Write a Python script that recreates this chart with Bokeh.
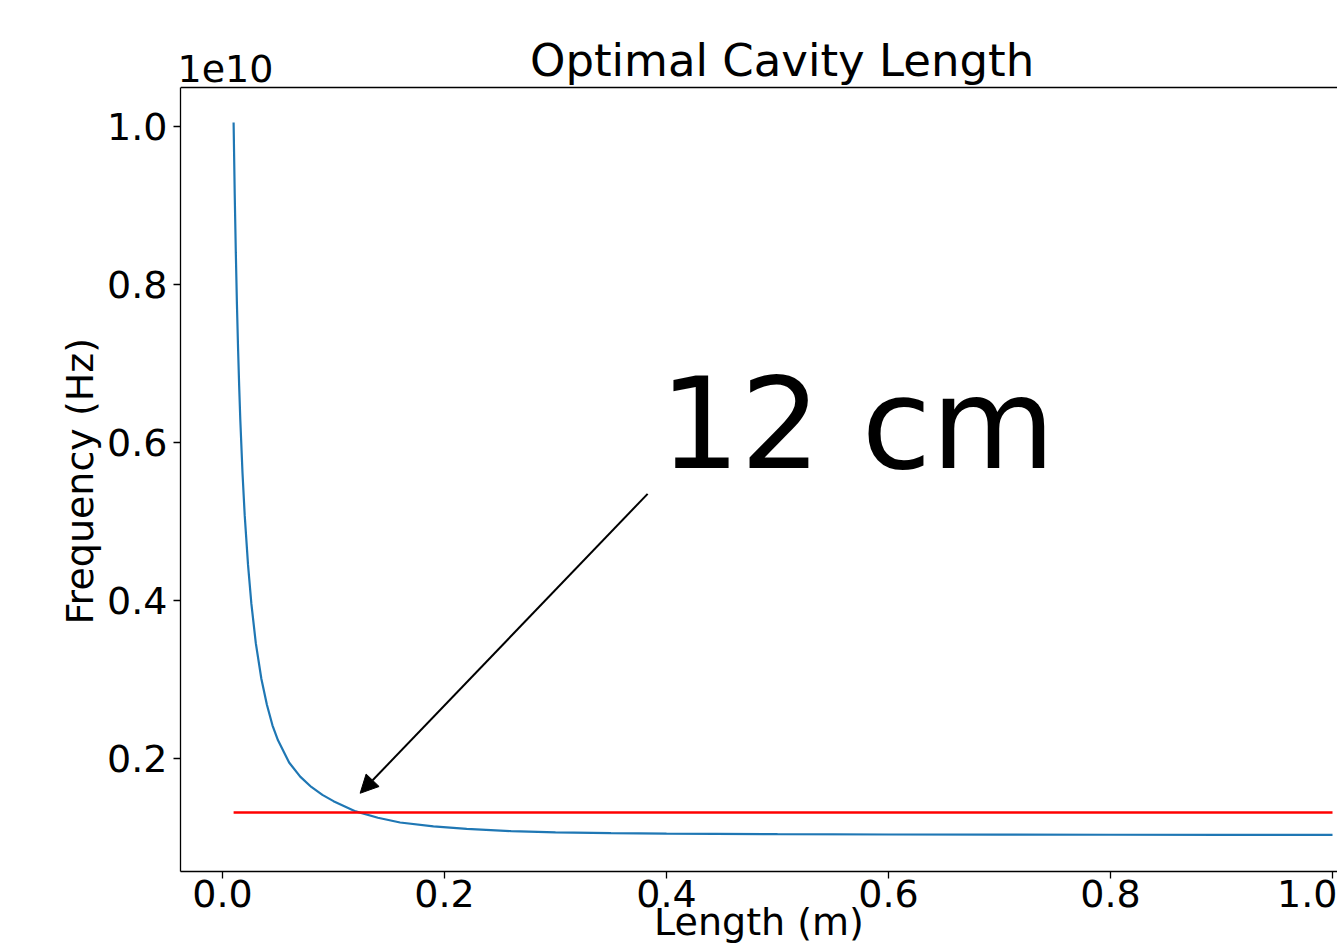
from bokeh.plotting import figure
from bokeh.models import (Range1d, FixedTicker, CustomJSTickFormatter, Label,
                          Arrow, NormalHead, Span, Title)
from bokeh.embed import file_html
from bokeh.resources import INLINE

# ---- data (frequency in units of 1e10 Hz) ----
length_m = [0.010, 0.011, 0.012, 0.013, 0.014, 0.015, 0.016, 0.018, 0.020,
            0.023, 0.026, 0.030, 0.035, 0.040, 0.045, 0.050, 0.060, 0.070,
            0.080, 0.090, 0.100, 0.120, 0.140, 0.160, 0.190, 0.220, 0.260,
            0.300, 0.350, 0.400, 0.500, 0.600, 0.700, 0.800, 0.900, 1.000]
frequency_e10 = [1.005, 0.915, 0.840, 0.775, 0.720, 0.672, 0.630, 0.562, 0.508,
                 0.445, 0.396, 0.346, 0.301, 0.268, 0.242, 0.223, 0.195, 0.177,
                 0.164, 0.154, 0.146, 0.133, 0.125, 0.119, 0.114, 0.111, 0.108,
                 0.1065, 0.1055, 0.1048, 0.1042, 0.1038, 0.1036, 0.1035, 0.1034, 0.1033]
target_length = [0.01, 1.0]
target_freq = [0.1316, 0.1316]

x_ticks = [0.0, 0.2, 0.4, 0.6, 0.8, 1.0]
y_ticks = [0.2, 0.4, 0.6, 0.8, 1.0]

title_text = "Optimal Cavity Length"
x_label = "Length (m)"
y_label = "Frequency (Hz)"
offset_text = "1e10"
note_text = "12 cm"

# annotation anchors (data coordinates)
title_pos = (0.2770, 1.0832)
offset_pos = (-0.0405, 1.0735)
note_pos = (0.3937, 0.6228)
arrow_tail = (0.383, 0.535)
arrow_tip = (0.124, 0.156)

# axes-box limits (matplotlib-like margins) and drawing extent
x_lo, x_hi = -0.03784, 1.0045
y_lo, y_box_top, y_canvas_top = 0.05696, 1.04937, 1.15949

FONT = "DejaVu Sans"
W, H = 1337, 947

p = figure(width=W, height=H, output_backend="svg", toolbar_location=None,
           x_range=Range1d(x_lo, x_hi), y_range=Range1d(y_lo, y_canvas_top),
           min_border_left=180, min_border_top=0, min_border_bottom=76,
           min_border_right=0, background_fill_color="white",
           border_fill_color="white")

p.xgrid.visible = False
p.ygrid.visible = False
p.outline_line_color = None

for ax in (p.xaxis[0], p.yaxis[0]):
    ax.axis_line_color = "black"
    ax.axis_line_width = 1.3
    ax.major_tick_line_color = "black"
    ax.major_tick_line_width = 1.3
    ax.major_tick_out = 7
    ax.major_tick_in = 0
    ax.minor_tick_line_color = None
    ax.major_label_text_font = FONT
    ax.major_label_text_font_size = "38px"
    ax.major_label_text_color = "black"
    ax.formatter = CustomJSTickFormatter(code="return tick.toFixed(1);")

p.xaxis.ticker = FixedTicker(ticks=x_ticks)
p.yaxis.ticker = FixedTicker(ticks=y_ticks)
p.yaxis.bounds = (y_lo, y_box_top)
p.xaxis.major_label_standoff = 1
p.yaxis.major_label_standoff = 6

p.xaxis.axis_label = x_label
p.xaxis.axis_label_text_font = FONT
p.xaxis.axis_label_text_font_size = "38px"
p.xaxis.axis_label_text_font_style = "normal"
p.xaxis.axis_label_text_color = "black"
p.xaxis.axis_label_standoff = -10

# y-axis label as a side title so that it can be centred on the axes box
p.add_layout(Title(text=y_label, align="left", offset=247, standoff=6,
                   text_font=FONT, text_font_size="38px",
                   text_font_style="normal", text_color="black"), "left")

# top edge of the axes box
p.add_layout(Span(location=y_box_top, dimension="width", line_color="black",
                  line_width=1.3))

p.line(length_m, frequency_e10, line_color="#1f77b4", line_width=2.2)
p.line(target_length, target_freq, line_color="#ff0000", line_width=2.6)

p.add_layout(Label(x=title_pos[0], y=title_pos[1], text=title_text,
                   text_font=FONT, text_font_size="45px", text_align="left",
                   text_baseline="alphabetic", text_color="black"))
p.add_layout(Label(x=offset_pos[0], y=offset_pos[1], text=offset_text,
                   text_font=FONT, text_font_size="38px", text_align="left",
                   text_baseline="alphabetic", text_color="black"))
p.add_layout(Label(x=note_pos[0], y=note_pos[1], text=note_text, text_font=FONT,
                   text_font_size="127px", text_align="left",
                   text_baseline="alphabetic", text_color="black"))
p.add_layout(Arrow(x_start=arrow_tail[0], y_start=arrow_tail[1],
                   x_end=arrow_tip[0], y_end=arrow_tip[1],
                   line_color="black", line_width=2,
                   end=NormalHead(size=18, fill_color="black",
                                  line_color="black", line_width=1)))

open("out.html", "w").write(file_html(p, INLINE))
